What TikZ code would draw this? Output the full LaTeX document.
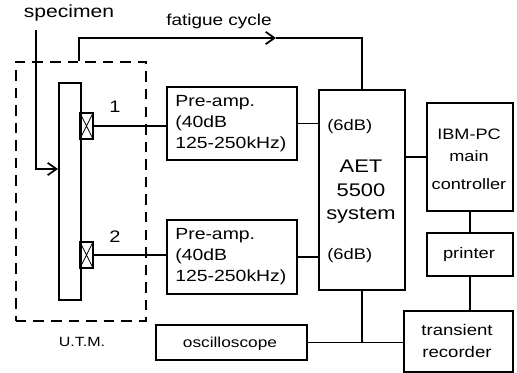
\documentclass[tikz,border=0pt]{standalone}
\usepackage{fontspec}
\setmainfont[FakeStretch=1.2]{Liberation Sans}
\usetikzlibrary{arrows.meta}
\tikzset{
  block/.style={draw, black, rectangle, line width=1pt, inner sep=0pt, anchor=north west},
  sensor/.style={draw, black, rectangle, line width=1pt, inner sep=0pt, minimum width=13*0.02cm, minimum height=26*0.02cm,
    path picture={\draw[line width=0.5pt] (path picture bounding box.north west) -- (path picture bounding box.south east)
      (path picture bounding box.north east) -- (path picture bounding box.south west);}},
  wire/.style={line width=1pt},
  label/.style={font=\fontsize{8.2pt}{10pt}\selectfont, inner sep=0pt}
}
\begin{document}
\begin{tikzpicture}[x=0.02cm, y=-0.02cm]
  \useasboundingbox (0,0) rectangle (517,372);
  % dashed frame and specimen
  \node (utm) [block, minimum width=130*0.02cm, minimum height=259*0.02cm, dash pattern=on 6pt off 4pt] at (15,61) {};
  \node (bar) [block, minimum width=22*0.02cm, minimum height=217*0.02cm] at (58,82) {};
  \node (sensor1) [sensor] at (86.5,126) {};
  \node (sensor2) [sensor] at (86.5,255) {};
  % blocks
  \node (amp1) [block, minimum width=130*0.02cm, minimum height=73*0.02cm] at (166,86) {};
  \node (amp2) [block, minimum width=130*0.02cm, minimum height=74*0.02cm] at (166,219) {};
  \node (aet) [block, minimum width=86*0.02cm, minimum height=200*0.02cm] at (318,89) {};
  \node (ibm) [block, minimum width=86*0.02cm, minimum height=108*0.02cm] at (426,102) {};
  \node (printer) [block, minimum width=86*0.02cm, minimum height=43*0.02cm] at (426,232) {};
  \node (recorder) [block, minimum width=109*0.02cm, minimum height=61*0.02cm] at (403,310) {};
  \node (scope) [block, minimum width=151*0.02cm, minimum height=35*0.02cm] at (155,324) {};
  % texts
  \node (spectext) [label, font=\fontsize{10pt}{11pt}\selectfont] at (69,13) {specimen};
  \node (fatiguetext) [label, font=\fontsize{9pt}{11pt}\selectfont] at (219,21) {fatigue cycle};
  \node (utmtext) [label, font=\fontsize{7.6pt}{10pt}\selectfont] at (82,342) {U.T.M.};
  \node (one) [label, font=\fontsize{9.5pt}{10pt}\selectfont] at (115,107) {1};
  \node (two) [label, font=\fontsize{9.5pt}{10pt}\selectfont] at (115,237) {2};
  \node (amp1text) [label, align=left, anchor=west, font=\fontsize{9.2pt}{12pt}\selectfont] at (175,124) {Pre-amp.\\(40dB\\125-250kHz)};
  \node (amp2text) [label, align=left, anchor=west, font=\fontsize{9.2pt}{12pt}\selectfont] at (175,257) {Pre-amp.\\(40dB\\125-250kHz)};
  \node (gain1) [label, anchor=west, font=\fontsize{8.7pt}{10pt}\selectfont] at (327,127) {(6dB)};
  \node (gain2) [label, anchor=west, font=\fontsize{8.7pt}{10pt}\selectfont] at (327,256) {(6dB)};
  \node (aettext) [label, align=center, font=\fontsize{10.4pt}{13.4pt}\selectfont] at (361,192) {AET\\5500\\system};
  \node (ibmtext) [label, align=center, font=\fontsize{8.6pt}{12.5pt}\selectfont] at (469,159) {IBM-PC\\main\\[3.5pt]controller};
  \node (printertext) [label, font=\fontsize{8.7pt}{10pt}\selectfont] at (469,255) {printer};
  \node (rectext) [label, align=center, font=\fontsize{8.8pt}{12.2pt}\selectfont] at (457,341) {transient\\recorder};
  \node (scopetext) [label] at (230,344) {oscilloscope};
  % connectors
  \coordinate (spectop) at (36,30);
  \coordinate (barhit) at (58,169);
  \coordinate (utmtop) at (79,61);
  \coordinate (cycle) at (276,38);
  \coordinate (junction) at (aet.south |- scope.east);
  \draw [wire, -{Straight Barb[length=5pt,width=7pt]}] (spectop) |- (barhit);
  \draw [wire, -{Straight Barb[length=5pt,width=7pt]}] (utmtop) |- (cycle);
  \draw [wire] (cycle) -| (aet.north);
  \draw [wire] (sensor1.east) -- (amp1.west |- sensor1.east);
  \draw [wire] (sensor2.east) -- (amp2.west |- sensor2.east);
  \draw [wire] (amp1.east) -- (aet.west |- amp1.east);
  \draw [wire] (amp2.east) -- (aet.west |- amp2.east);
  \draw [wire] (aet.east |- ibm.center) -- (ibm.west);
  \draw [wire] (ibm.south) -- (printer.north);
  \draw [wire] (printer.south) -- (printer.south |- recorder.north);
  \draw [wire] (aet.south) -- (junction);
  \draw [wire] (scope.east) -- (recorder.west |- scope.east);
\end{tikzpicture}
\end{document}
